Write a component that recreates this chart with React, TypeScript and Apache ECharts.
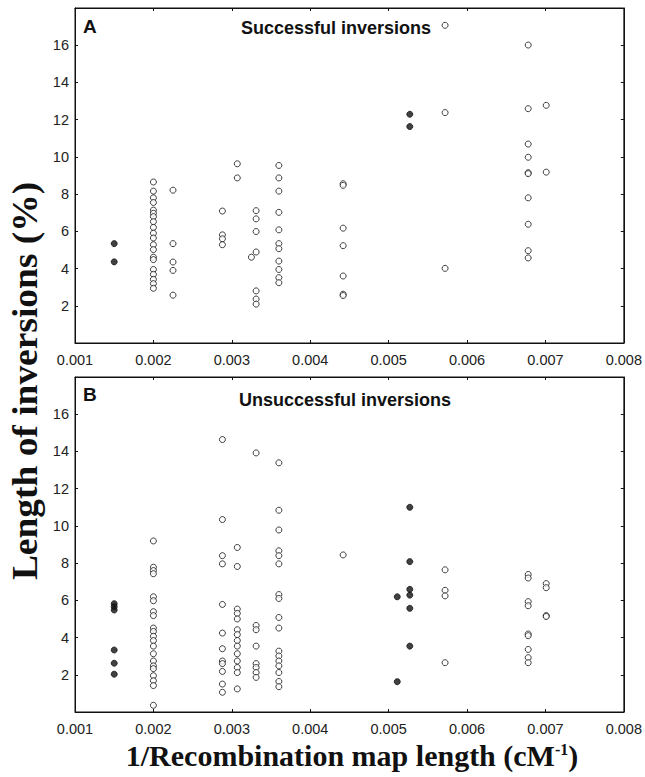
import React, { useEffect, useRef } from "react";
import * as echarts from "echarts";

const xTicks = [0.001, 0.002, 0.003, 0.004, 0.005, 0.006, 0.007, 0.008];
const yTicks = [2, 4, 6, 8, 10, 12, 14, 16];

// Panel A: successful inversions
const aFilled: [number, number][] = [
  [0.0015, 5.34], [0.0015, 4.36],
  [0.00527, 12.29], [0.00527, 11.63],
];
const aOpen: [number, number][] = [
  [0.002, 8.65], [0.002, 8.16], [0.002, 7.8], [0.002, 7.55], [0.002, 7.14], [0.002, 6.97],
  [0.002, 6.79], [0.002, 6.52], [0.002, 6.21], [0.002, 5.9], [0.002, 5.64], [0.002, 5.28],
  [0.002, 5.02], [0.002, 4.61], [0.002, 4.48], [0.002, 3.95], [0.002, 3.69], [0.002, 3.42],
  [0.002, 3.19], [0.002, 2.94],
  [0.00225, 8.21], [0.00225, 5.34], [0.00225, 4.35], [0.00225, 3.9], [0.00225, 2.57],
  [0.00288, 7.09], [0.00288, 5.81], [0.00288, 5.6], [0.00288, 5.28],
  [0.00307, 9.63], [0.00307, 8.87],
  [0.00331, 7.11], [0.00331, 6.67], [0.00331, 5.99], [0.00331, 4.89], [0.00325, 4.61],
  [0.00331, 2.8], [0.00331, 2.36], [0.00331, 2.09],
  [0.0036, 9.54], [0.0036, 8.87], [0.0036, 8.16], [0.0036, 7.02], [0.0036, 6.08], [0.0036, 5.34],
  [0.0036, 5.07], [0.0036, 4.4], [0.0036, 3.95], [0.0036, 3.51], [0.0036, 3.24],
  [0.00442, 8.56], [0.00442, 8.47], [0.00442, 6.17], [0.00442, 5.23], [0.00442, 3.6],
  [0.00442, 2.62], [0.00442, 2.55],
  [0.00572, 17.07], [0.00572, 12.38], [0.00572, 4.01],
  [0.00678, 16.01], [0.00678, 12.59], [0.00678, 10.69], [0.00678, 9.98], [0.00678, 9.15],
  [0.00678, 9.1], [0.00678, 7.8], [0.00678, 6.38], [0.00678, 4.96], [0.00678, 4.57],
  [0.00701, 12.77], [0.00701, 9.18],
];

// Panel B: unsuccessful inversions
const bFilled: [number, number][] = [
  [0.0015, 5.82], [0.0015, 5.66], [0.0015, 5.48], [0.0015, 3.33], [0.0015, 2.62], [0.0015, 2.03],
  [0.00511, 6.19], [0.00511, 1.63],
  [0.00527, 11.0], [0.00527, 8.08], [0.00527, 6.59], [0.00527, 6.28], [0.00527, 5.57], [0.00527, 3.54],
];
const bOpen: [number, number][] = [
  [0.002, 9.19], [0.002, 7.78], [0.002, 7.6], [0.002, 7.43], [0.002, 6.19], [0.002, 5.98],
  [0.002, 5.39], [0.002, 5.18], [0.002, 4.51], [0.002, 4.33], [0.002, 4.07], [0.002, 3.84],
  [0.002, 3.54], [0.002, 3.13], [0.002, 2.74], [0.002, 2.48], [0.002, 2.33], [0.002, 1.95],
  [0.002, 1.68], [0.002, 1.42], [0.002, 0.36],
  [0.00288, 14.64], [0.00288, 10.34], [0.00288, 8.4], [0.00288, 7.96], [0.00288, 5.78],
  [0.00288, 4.24], [0.00288, 3.4], [0.00288, 2.74], [0.00288, 2.6], [0.00288, 2.18],
  [0.00288, 1.5], [0.00288, 1.06],
  [0.00307, 8.84], [0.00307, 7.82], [0.00307, 5.53], [0.00307, 5.3], [0.00307, 5.0],
  [0.00307, 4.42], [0.00307, 4.16], [0.00307, 3.84], [0.00307, 3.54], [0.00307, 3.13],
  [0.00307, 2.74], [0.00307, 2.39], [0.00307, 2.12], [0.00307, 1.24],
  [0.00331, 13.92], [0.00331, 4.65], [0.00331, 4.42], [0.00331, 3.54], [0.00331, 2.6],
  [0.00331, 2.39], [0.00331, 2.12], [0.00331, 1.86],
  [0.0036, 13.39], [0.0036, 10.84], [0.0036, 9.78], [0.0036, 8.66], [0.0036, 8.4], [0.0036, 7.96],
  [0.0036, 6.31], [0.0036, 6.1], [0.0036, 5.08], [0.0036, 4.51], [0.0036, 3.27], [0.0036, 3.01],
  [0.0036, 2.74], [0.0036, 2.48], [0.0036, 2.12], [0.0036, 1.64], [0.0036, 1.36],
  [0.00442, 8.44],
  [0.00572, 7.64], [0.00572, 6.54], [0.00572, 6.24], [0.00572, 2.65],
  [0.00678, 7.39], [0.00678, 7.2], [0.00678, 5.93], [0.00678, 5.71], [0.00678, 4.19],
  [0.00678, 4.1], [0.00678, 3.36], [0.00678, 2.92], [0.00678, 2.65],
  [0.00701, 6.9], [0.00701, 6.68], [0.00701, 5.18], [0.00701, 5.13],
];

const panelTitles = ["Successful inversions", "Unsuccessful inversions"];
const panelLetters = ["A", "B"];

export default function App() {
  const ref = useRef<HTMLDivElement>(null);
  useEffect(() => {
    if (!ref.current) return;
    const chart = echarts.init(ref.current, null, { renderer: "svg" });
    const sans = "Liberation Sans, Arial, sans-serif";
    const serif = "Liberation Serif, Times New Roman, serif";
    const grids = [
      { left: 75, right: 19, top: 8, height: 335 },
      { left: 75, right: 19, top: 377, height: 335 },
    ];
    const xAxes: any[] = [];
    const yAxes: any[] = [];
    grids.forEach((_, gi) => {
      const common = {
        type: "value",
        gridIndex: gi,
        min: 0.001,
        max: 0.008,
        interval: 0.001,
        splitLine: { show: false },
        axisLine: { show: true, onZero: false, lineStyle: { color: "#111", width: 1 } },
        axisTick: { show: true, inside: true, length: 3, lineStyle: { color: "#111" } },
      };
      xAxes.push({
        ...common,
        position: "bottom",
        axisLabel: {
          show: true,
          color: "#222",
          fontFamily: sans,
          fontSize: 14.5,
          margin: 9,
          lineHeight: 15,
          formatter: (v: number) => {
            const t = xTicks.find((k) => Math.abs(k - v) < 1e-9);
            return t !== undefined ? t.toFixed(3) : "";
          },
        },
      });
      xAxes.push({ ...common, position: "top", axisLabel: { show: false } });
      const ycommon = {
        type: "value",
        gridIndex: gi,
        min: 0,
        max: 18,
        interval: 2,
        splitLine: { show: false },
        axisLine: { show: true, onZero: false, lineStyle: { color: "#111", width: 1 } },
        axisTick: { show: true, inside: true, length: 3, lineStyle: { color: "#111" } },
      };
      yAxes.push({
        ...ycommon,
        position: "left",
        axisLabel: {
          show: true,
          color: "#222",
          fontFamily: sans,
          fontSize: 14.5,
          margin: 6,
          formatter: (v: number) => (yTicks.includes(v) ? String(v) : ""),
        },
      });
      yAxes.push({ ...ycommon, position: "right", axisLabel: { show: false } });
    });

    const openStyle = { color: "#fff", borderColor: "#111", borderWidth: 1 };
    const filledStyle = { color: "#111", borderColor: "#111", borderWidth: 1 };
    const mk = (data: [number, number][], gi: number, style: any) => ({
      type: "scatter",
      xAxisIndex: gi * 2,
      yAxisIndex: gi * 2,
      symbol: "circle",
      symbolSize: 6,
      itemStyle: style,
      data,
      silent: true,
    });

    chart.setOption({
      animation: false,
      backgroundColor: "#fff",
      grid: grids.map((g) => ({ ...g, show: true, borderColor: "#111", borderWidth: 1, backgroundColor: "transparent" })),
      xAxis: xAxes,
      yAxis: yAxes,
      series: [
        mk(aOpen, 0, openStyle),
        mk(aFilled, 0, filledStyle),
        mk(bOpen, 1, openStyle),
        mk(bFilled, 1, filledStyle),
      ],
      graphic: [
        {
          type: "text",
          left: 83,
          top: 17,
          style: { text: panelLetters[0], font: `bold 19px ${sans}`, fill: "#111" },
        },
        {
          type: "text",
          left: 83,
          top: 385,
          style: { text: panelLetters[1], font: `bold 19px ${sans}`, fill: "#111" },
        },
        {
          type: "text",
          x: 336,
          y: 28,
          style: { text: panelTitles[0], font: `bold 18px ${sans}`, fill: "#111", align: "center", verticalAlign: "middle" },
        },
        {
          type: "text",
          x: 345,
          y: 400,
          style: { text: panelTitles[1], font: `bold 18px ${sans}`, fill: "#111", align: "center", verticalAlign: "middle" },
        },
        {
          type: "text",
          x: 25,
          y: 381,
          rotation: Math.PI / 2,
          scaleX: 1.04,
          style: {
            text: "Length of inversions (%)",
            font: `bold 36px ${serif}`,
            fill: "#111",
            align: "center",
            verticalAlign: "middle",
          },
        },
        {
          type: "text",
          x: 352,
          y: 755,
          style: {
            text: "1/Recombination map length (cM{sup|-1})",
            font: `bold 30px ${serif}`,
            lineHeight: 28,
            fill: "#111",
            align: "center",
            verticalAlign: "middle",
            rich: {
              sup: { font: `bold 16px ${serif}`, fill: "#111", lineHeight: 28, verticalAlign: "top", padding: [0, 0, 0, 0] },
            },
          },
        },
      ],
    });
    return () => chart.dispose();
  }, []);
  return (
    <div
      ref={ref}
      style={{ position: "absolute", left: 0, top: 0, width: 645, height: 777, background: "#fff" }}
    />
  );
}
